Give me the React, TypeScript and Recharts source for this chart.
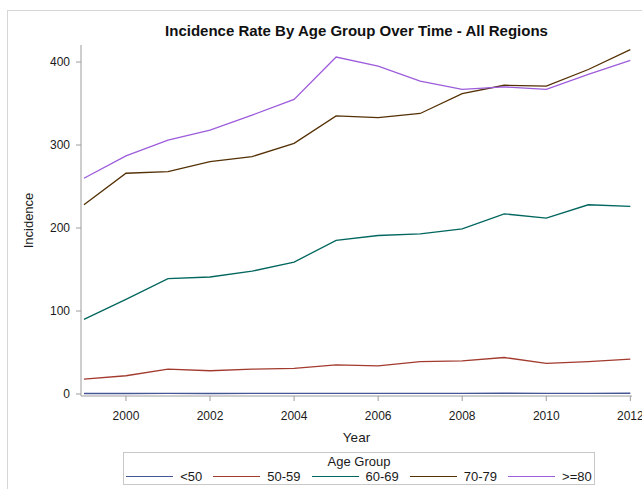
import { LineChart, Line, XAxis, YAxis } from 'recharts';

const YEARS = [1999, 2000, 2001, 2002, 2003, 2004, 2005, 2006, 2007, 2008, 2009, 2010, 2011, 2012];
const UNDER_50 = [0.6, 0.6, 0.7, 0.6, 0.7, 0.7, 0.8, 0.7, 0.8, 0.8, 0.9, 0.8, 0.8, 0.9];
const AGE_50_59 = [18, 22, 30, 28, 30, 31, 35, 34, 39, 40, 44, 37, 39, 42];
const AGE_60_69 = [90, 114, 139, 141, 148, 159, 185, 191, 193, 199, 217, 212, 228, 226];
const AGE_70_79 = [228, 266, 268, 280, 286, 302, 335, 333, 338, 362, 372, 371, 391, 415];
const AGE_80_PLUS = [260, 287, 306, 318, 336, 355, 406, 395, 377, 367, 370, 367, 385, 402];

const X_TICKS = [2000, 2002, 2004, 2006, 2008, 2010, 2012];
const Y_TICKS = [0, 100, 200, 300, 400];

const SERIES = [
  { key: 'lt50', name: '<50', color: '#445694' },
  { key: 'a5059', name: '50-59', color: '#A23A2E' },
  { key: 'a6069', name: '60-69', color: '#01665E' },
  { key: 'a7079', name: '70-79', color: '#543005' },
  { key: 'a80', name: '>=80', color: '#9D5CDB' },
];

const FONT = '"Liberation Sans", Arial, sans-serif';
const FRAME = '#9c9c9c';
const X_DOMAIN = [1998.93, 2012.04];
const Y_DOMAIN = [-2.4, 420.5];

const data = YEARS.map((year, i) => ({
  year,
  lt50: UNDER_50[i],
  a5059: AGE_50_59[i],
  a6069: AGE_60_69[i],
  a7079: AGE_70_79[i],
  a80: AGE_80_PLUS[i],
}));

const tickStyle = { fontSize: 12, fill: '#1a1a1a', fontFamily: FONT };

export default function App() {
  return (
    <div
      style={{
        position: 'absolute',
        left: 0,
        top: 0,
        width: 642,
        height: 489,
        overflow: 'hidden',
        background: '#fff',
        fontFamily: FONT,
      }}
    >
      {/* outer graph border */}
      <div
        style={{
          position: 'absolute',
          left: 7,
          top: 10,
          width: 660,
          height: 520,
          border: '1px solid #d6d6d6',
        }}
      />

      <div
        style={{
          position: 'absolute',
          left: 81,
          width: 551,
          top: 22,
          textAlign: 'center',
          fontSize: 15,
          lineHeight: '18px',
          fontWeight: 'bold',
          color: '#111',
        }}
      >
        Incidence Rate By Age Group Over Time - All Regions
      </div>

      <div style={{ position: 'absolute', left: 0, top: 0 }}>
        <LineChart width={642} height={489} data={data} margin={{ top: 45, right: 10, bottom: 0, left: 0 }}>
          <XAxis
            dataKey="year"
            type="number"
            domain={X_DOMAIN}
            allowDataOverflow
            ticks={X_TICKS}
            interval={0}
            height={93}
            tickSize={5}
            tickMargin={10}
            tick={tickStyle}
            axisLine={{ stroke: FRAME }}
            tickLine={{ stroke: FRAME }}
            label={{
              value: 'Year',
              position: 'insideTop',
              offset: 36,
              style: { fontSize: 13.5, fill: '#1a1a1a', fontFamily: FONT },
            }}
          />
          <XAxis
            xAxisId="top"
            orientation="top"
            dataKey="year"
            type="number"
            domain={X_DOMAIN}
            allowDataOverflow
            height={0}
            tick={false}
            tickLine={false}
            axisLine={{ stroke: FRAME }}
          />
          <YAxis
            type="number"
            domain={Y_DOMAIN}
            allowDataOverflow
            ticks={Y_TICKS}
            interval={0}
            width={81}
            tickSize={5}
            tickMargin={6}
            tick={tickStyle}
            axisLine={{ stroke: FRAME }}
            tickLine={{ stroke: FRAME }}
            label={{
              value: 'Incidence',
              angle: -90,
              position: 'insideLeft',
              offset: 0,
              content: ({ viewBox }: any) => (
                <text
                  x={viewBox.x + 28}
                  y={viewBox.y + viewBox.height / 2}
                  transform={`rotate(-90, ${viewBox.x + 28}, ${viewBox.y + viewBox.height / 2})`}
                  textAnchor="middle"
                  dominantBaseline="central"
                  fontSize={13}
                  fill="#1a1a1a"
                  fontFamily={FONT}
                >
                  Incidence
                </text>
              ),
            }}
          />
          <YAxis
            yAxisId="right"
            orientation="right"
            type="number"
            domain={Y_DOMAIN}
            allowDataOverflow
            width={0}
            tick={false}
            tickLine={false}
            axisLine={{ stroke: FRAME }}
          />
          {SERIES.map(s => (
            <Line
              key={s.key}
              type="linear"
              dataKey={s.key}
              name={s.name}
              stroke={s.color}
              strokeWidth={1.3}
              dot={false}
              activeDot={false}
              isAnimationActive={false}
            />
          ))}
        </LineChart>
      </div>

      {/* legend */}
      <div
        style={{
          position: 'absolute',
          left: 123,
          top: 452,
          width: 470,
          height: 31,
          border: '1px solid #c8c8c8',
          fontSize: 13,
          color: '#1a1a1a',
        }}
      >
        <div style={{ textAlign: 'center', lineHeight: '15px', marginTop: 1 }}>Age Group</div>
        <div
          style={{
            display: 'flex',
            justifyContent: 'center',
            alignItems: 'center',
            lineHeight: '15px',
          }}
        >
          {SERIES.map((s, i) => (
            <div
              key={s.key}
              style={{ display: 'flex', alignItems: 'center', marginLeft: i === 0 ? 0 : 11 }}
            >
              <div style={{ width: 47, height: 1.3, background: s.color, marginRight: 7 }} />
              <span>{s.name}</span>
            </div>
          ))}
        </div>
      </div>
    </div>
  );
}
